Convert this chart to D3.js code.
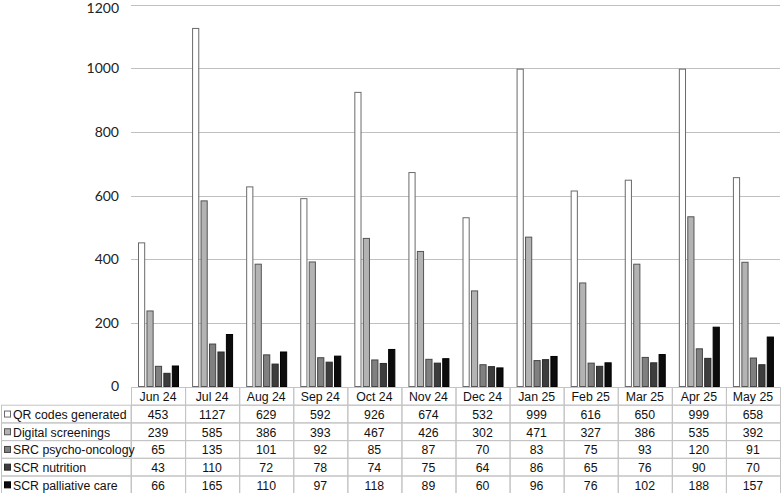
<!DOCTYPE html>
<html>
<head>
<meta charset="utf-8">
<script src="https://cdn.jsdelivr.net/npm/d3@7"></script>
<style>
body { margin: 0; background: #fff; }
svg { display: block; }
</style>
</head>
<body>
<svg id="chart" width="781" height="493"></svg>
<script>
const months = ["Jun 24","Jul 24","Aug 24","Sep 24","Oct 24","Nov 24","Dec 24","Jan 25","Feb 25","Mar 25","Apr 25","May 25"];
const seriesNames = ["QR codes generated","Digital screenings","SRC psycho-oncology","SCR nutrition","SCR palliative care"];
const qrCodes     = [453,1127,629,592,926,674,532,999,616,650,999,658];
const digital     = [239,585,386,393,467,426,302,471,327,386,535,392];
const psycho      = [65,135,101,92,85,87,70,83,75,93,120,91];
const nutrition   = [43,110,72,78,74,75,64,86,65,76,90,70];
const palliative  = [66,165,110,97,118,89,60,96,76,102,188,157];
const yTicks = [0,200,400,600,800,1000,1200];
const colors = ["#ffffff","#b3b3b3","#808080","#3d3d3d","#0c0c0c"];
const strokes = ["#6a6a6a","#555555","#444444","#2a2a2a","#000000"];

const values = [qrCodes, digital, psycho, nutrition, palliative];

const svg = d3.select("#chart");
const plotLeft = 131, plotRight = 780, plotTop = 4.7, plotBase = 386.5;

const y = d3.scaleLinear().domain([0,1200]).range([plotBase, plotTop]);
const x0 = d3.scaleBand().domain(months).range([plotLeft, plotRight]).padding(0);
const x1 = d3.scaleBand().domain(seriesNames).range([7, 48]).paddingInner(0.15).paddingOuter(0);

// gridlines
svg.append("g").selectAll("line").data(yTicks.filter(d => d > 0)).join("line")
  .attr("x1", plotLeft).attr("x2", plotRight)
  .attr("y1", d => Math.round(y(d)) + 0.5).attr("y2", d => Math.round(y(d)) + 0.5)
  .attr("stroke", "#c0c0c0").attr("stroke-width", 1);

// y tick labels
svg.append("g").selectAll("text").data(yTicks).join("text")
  .attr("x", 119).attr("y", d => Math.max(y(d), 8.5)).attr("dy", "0.35em")
  .attr("text-anchor", "end")
  .attr("font-family", "Lato, 'Open Sans', sans-serif").attr("font-size", 14)
  .attr("fill", "#222")
  .text(d => d);

// bars
const groups = svg.append("g").selectAll("g").data(months).join("g")
  .attr("transform", d => `translate(${x0(d)},0)`);
groups.selectAll("rect")
  .data((m, i) => seriesNames.map((s, k) => ({ s, k, v: values[k][i] })))
  .join("rect")
  .attr("x", d => x1(d.s) + 0.5)
  .attr("y", d => y(d.v) + 0.5)
  .attr("width", x1.bandwidth() - 1)
  .attr("height", d => plotBase - y(d.v) - 0.5)
  .attr("fill", d => colors[d.k])
  .attr("stroke", d => strokes[d.k])
  .attr("stroke-width", 1);

// data table
const rowH = 17.7;
const headTop = 387;
const border = "#c4c4c4";
const font = "'Liberation Sans', Arial, sans-serif";
const fs = 12.3;
const tbl = svg.append("g");

// header cells
tbl.selectAll("rect.h").data(months).join("rect")
  .attr("class", "h")
  .attr("x", d => x0(d) + 0.5).attr("y", headTop + 0.5)
  .attr("width", x0.bandwidth()).attr("height", rowH)
  .attr("fill", "none").attr("stroke", border);
tbl.selectAll("text.h").data(months).join("text")
  .attr("class", "h")
  .attr("x", d => x0(d) + x0.bandwidth() / 2).attr("y", headTop + rowH / 2 + 1)
  .attr("dy", "0.35em").attr("text-anchor", "middle")
  .attr("font-family", font).attr("font-size", fs).attr("fill", "#111")
  .text(d => d);

// body rows
seriesNames.forEach((s, k) => {
  const ry = headTop + rowH * (k + 1);
  const g = tbl.append("g");
  g.append("rect").attr("x", 1.5).attr("y", ry + 0.5)
    .attr("width", plotLeft - 1.5).attr("height", rowH)
    .attr("fill", "none").attr("stroke", border);
  g.selectAll("rect.c").data(months).join("rect").attr("class", "c")
    .attr("x", d => x0(d) + 0.5).attr("y", ry + 0.5)
    .attr("width", x0.bandwidth()).attr("height", rowH)
    .attr("fill", "none").attr("stroke", border);
  g.append("rect").attr("x", 4.5).attr("y", ry + rowH / 2 - 2.5)
    .attr("width", 6).attr("height", 6)
    .attr("fill", colors[k]).attr("stroke", strokes[k]).attr("stroke-width", 1);
  g.append("text").attr("x", 13).attr("y", ry + rowH / 2 + 1).attr("dy", "0.35em")
    .attr("font-family", font).attr("font-size", fs).attr("fill", "#111")
    .text(s);
  g.selectAll("text.v").data(values[k]).join("text").attr("class", "v")
    .attr("x", (d, i) => x0(months[i]) + x0.bandwidth() / 2)
    .attr("y", ry + rowH / 2 + 1).attr("dy", "0.35em").attr("text-anchor", "middle")
    .attr("font-family", font).attr("font-size", fs).attr("fill", "#111")
    .text(d => d);
});
</script>
</body>
</html>
